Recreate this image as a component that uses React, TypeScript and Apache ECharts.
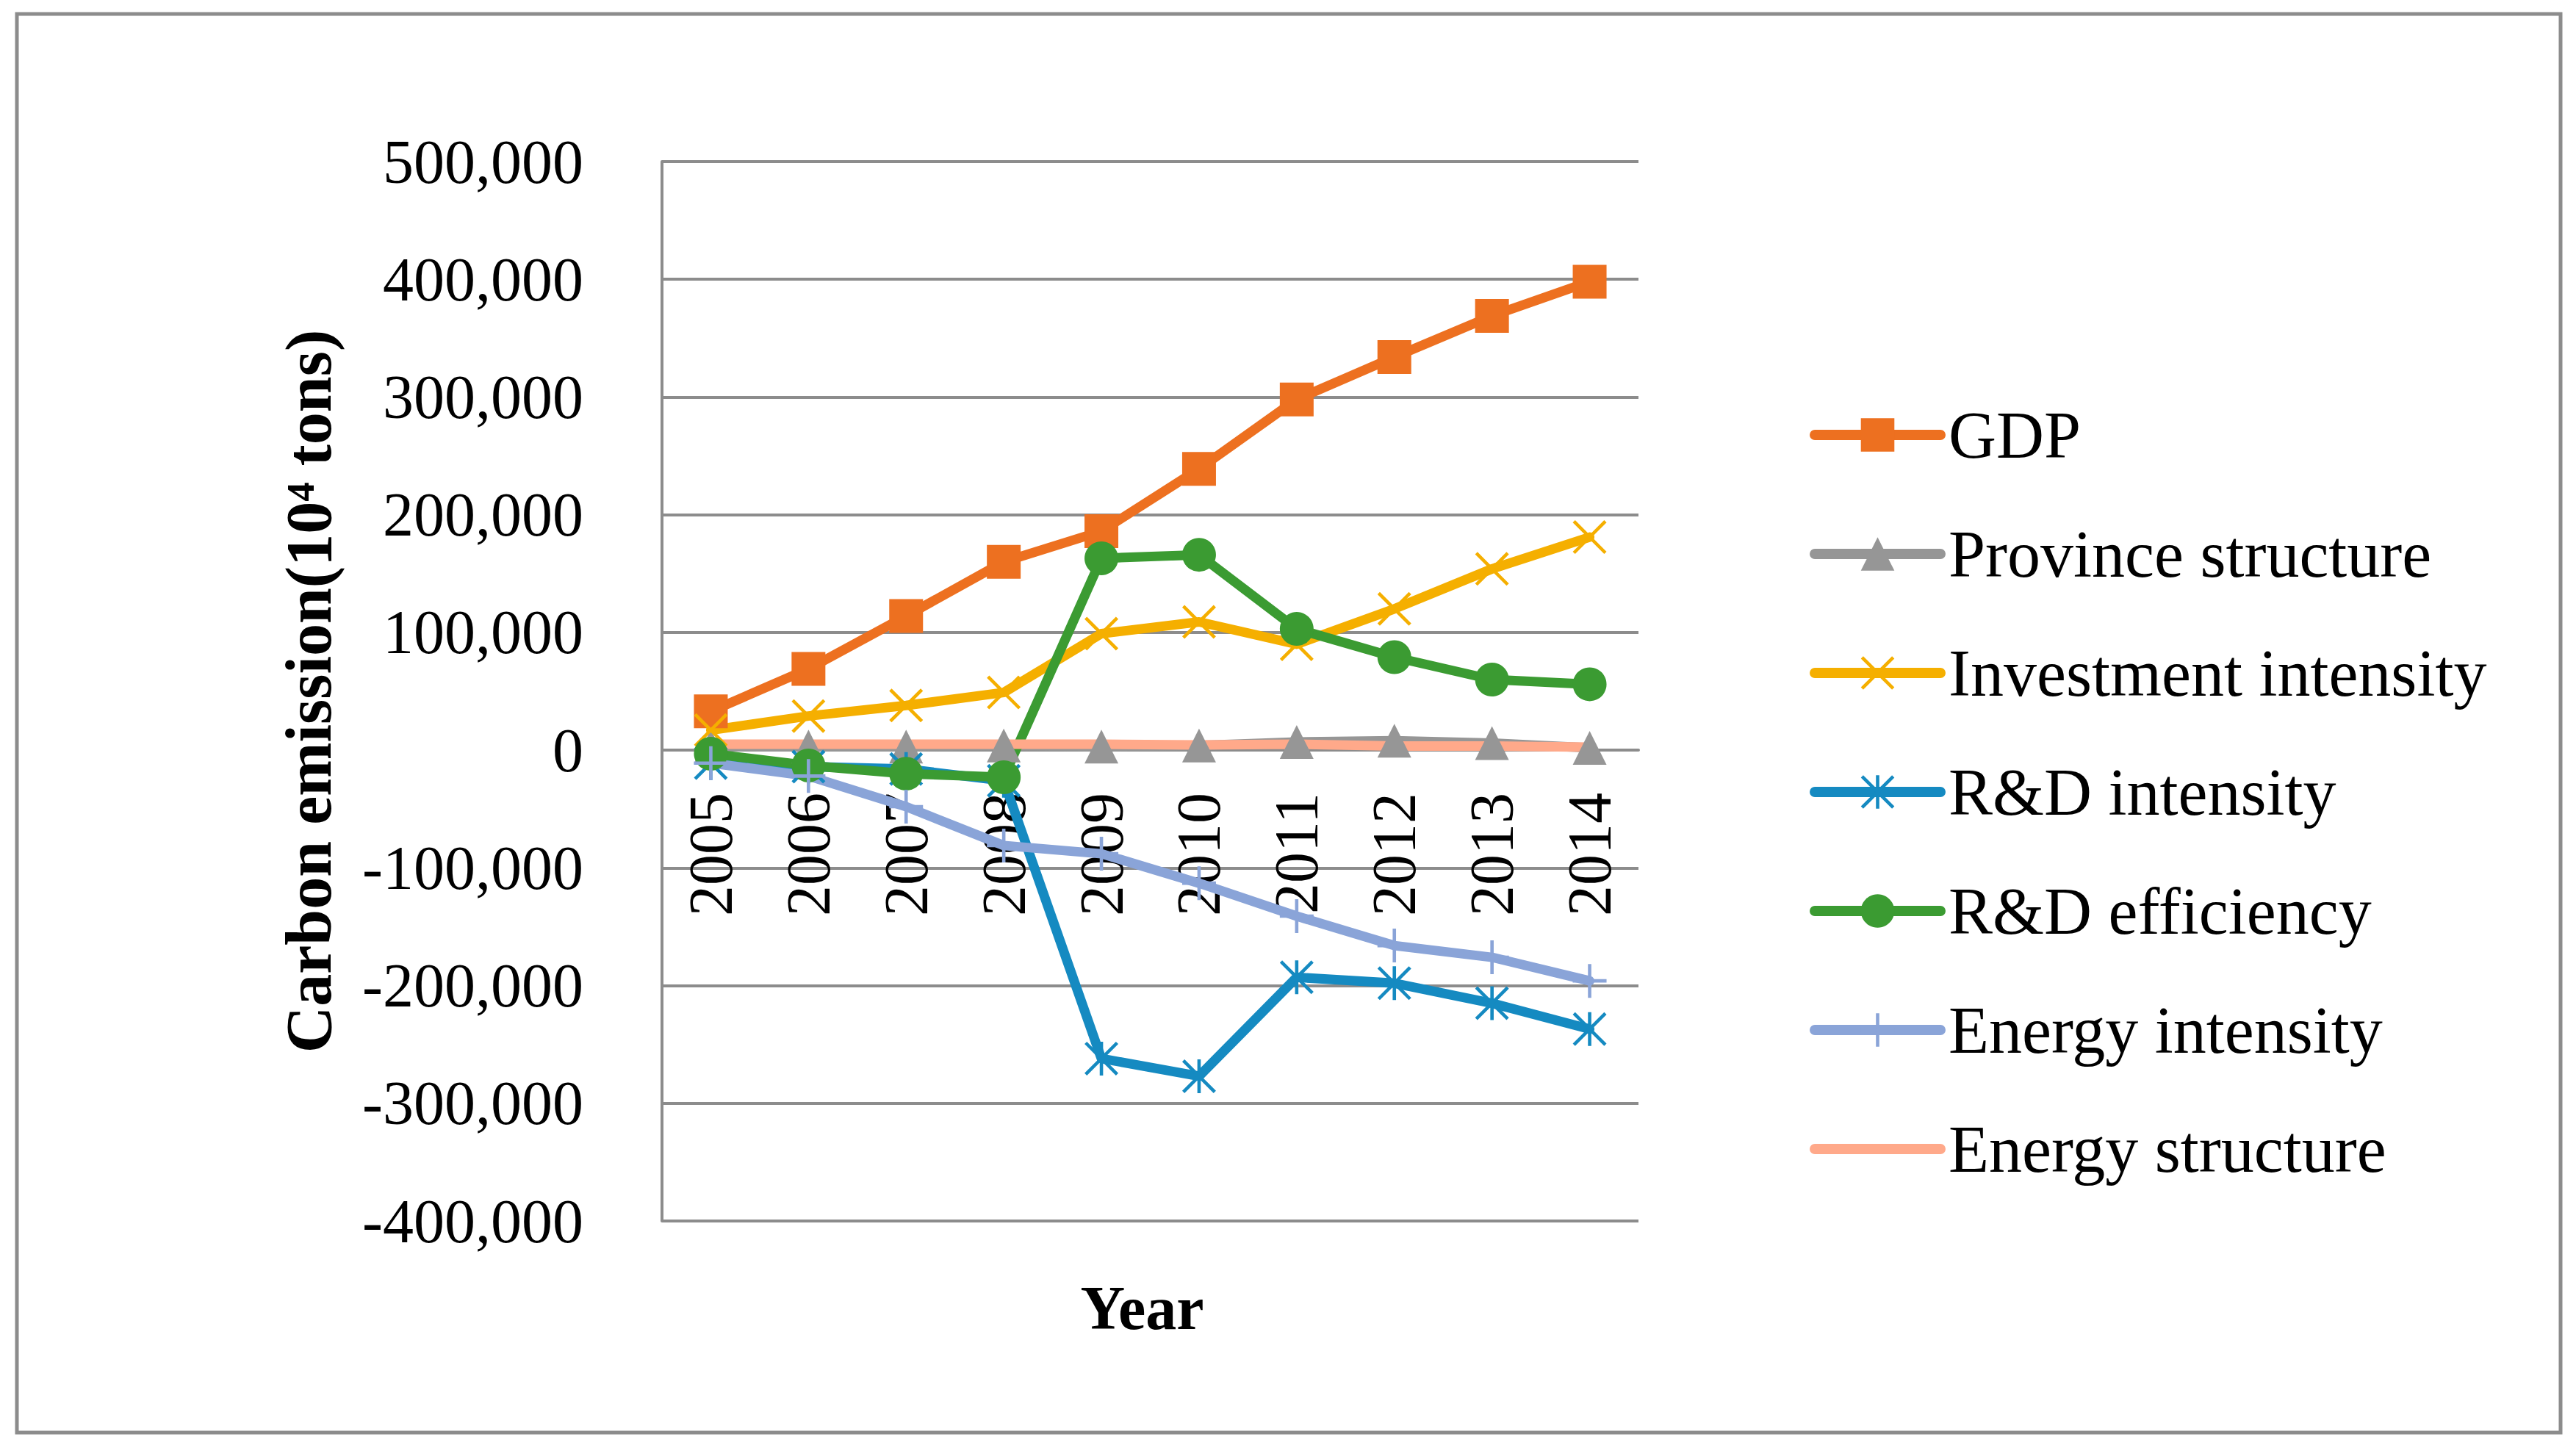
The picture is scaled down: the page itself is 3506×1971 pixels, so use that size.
import React, { useEffect, useRef } from "react";
import * as echarts from "echarts";

const years = ["2005", "2006", "2007", "2008", "2009", "2010", "2011", "2012", "2013", "2014"];
const gdp = [33000, 69000, 114000, 160000, 186000, 239000, 298000, 334000, 369000, 398000];
const provinceStructure = [3000, 3000, 3000, 4000, 3000, 4000, 7000, 8000, 6000, 2000];
const investmentIntensity = [17000, 29000, 38000, 49000, 99000, 109000, 90000, 120000, 154000, 181000];
const rdIntensity = [-11000, -14000, -16000, -26000, -262000, -277000, -193000, -198000, -215000, -237000];
const rdEfficiency = [-3000, -13000, -20000, -23000, 163000, 166000, 103000, 79000, 60000, 56000];
const energyIntensity = [-11000, -22000, -48000, -81000, -88000, -113000, -141000, -166000, -176000, -196000];
const energyStructure = [5000, 5000, 5000, 5000, 5000, 4500, 5000, 3500, 3500, 2500];

const FONT = "'Liberation Serif', 'Times New Roman', serif";
const GRID = "#8C8C8C";

const X_PATH = "path://M0,7L7,0L100,93L93,100Z M93,0L100,7L7,100L0,93Z";
const STAR_PATH = "path://M0,7L7,0L100,93L93,100Z M93,0L100,7L7,100L0,93Z M45,0L55,0L55,100L45,100Z";
const PLUS_PATH = "path://M45,0L55,0L55,100L45,100Z M0,45L100,45L100,55L0,55Z";

export default function App() {
  const ref = useRef<HTMLDivElement>(null);

  useEffect(() => {
    if (!ref.current) return;
    const chart = echarts.init(ref.current, undefined, { renderer: "svg" });

    const mk = (name: string, data: number[], color: string, symbol: string) => ({
      name,
      type: "line",
      data,
      symbol,
      symbolSize: 46,
      showSymbol: symbol !== "none",
      lineStyle: { color, width: 13, cap: "round", join: "round" },
      itemStyle: { color, borderWidth: 0 },
      emphasis: { disabled: true },
    });

    const option = {
      animation: false,
      backgroundColor: "#ffffff",
      grid: {
        left: 901,
        top: 220,
        width: 1329,
        height: 1442,
        containLabel: false,
        outerBoundsMode: "none",
      },
      xAxis: {
        type: "category",
        data: years,
        boundaryGap: true,
        offset: -641,
        name: "Year",
        nameLocation: "middle",
        nameGap: 717,
        nameTextStyle: {
          fontFamily: FONT,
          fontSize: 84,
          fontWeight: "bold",
          color: "#000",
          padding: [0, 22, 0, 0],
        },
        axisLine: { show: true, onZero: false, lineStyle: { color: GRID, width: 4 } },
        axisTick: { show: false },
        axisLabel: { rotate: 90, margin: 58, fontFamily: FONT, fontSize: 84, color: "#000" },
        splitLine: { show: false },
      },
      yAxis: {
        type: "value",
        min: -400000,
        max: 500000,
        interval: 100000,
        name: "Carbon emission(10⁴ tons)",
        nameLocation: "middle",
        nameRotate: 90,
        nameGap: 437,
        nameTextStyle: { fontFamily: FONT, fontSize: 88, fontWeight: "bold", color: "#000" },
        axisLine: { show: true, lineStyle: { color: GRID, width: 4 } },
        axisTick: { show: false },
        axisLabel: {
          margin: 107,
          fontFamily: FONT,
          fontSize: 84,
          color: "#000",
          formatter: (v: number) => v.toLocaleString("en-US"),
        },
        splitLine: { show: true, lineStyle: { color: GRID, width: 4 } },
      },
      legend: {
        orient: "vertical",
        left: 2458,
        top: 542,
        itemWidth: 171,
        itemHeight: 57,
        itemGap: 72,
        lineStyle: { width: 14, cap: "round" },
        textStyle: { fontFamily: FONT, fontSize: 90, color: "#000", lineHeight: 88, padding: [0, 0, 0, 6] },
        data: [
          "GDP",
          "Province structure",
          "Investment intensity",
          "R&D intensity",
          "R&D efficiency",
          "Energy intensity",
          { name: "Energy structure", itemStyle: { opacity: 0 } },
        ],
      },
      graphic: [
        {
          type: "rect",
          shape: { x: 23, y: 19, width: 3462, height: 1931 },
          style: { fill: "none", stroke: GRID, lineWidth: 5 },
          silent: true,
        },
      ],
      series: [
        mk("GDP", gdp, "#ED7020", "rect"),
        mk("Province structure", provinceStructure, "#969696", "triangle"),
        mk("Investment intensity", investmentIntensity, "#F5AF00", X_PATH),
        mk("R&D intensity", rdIntensity, "#158AC1", STAR_PATH),
        mk("R&D efficiency", rdEfficiency, "#3B9B32", "circle"),
        mk("Energy intensity", energyIntensity, "#8AA4D8", PLUS_PATH),
        mk("Energy structure", energyStructure, "#FFA98A", "none"),
      ],
    };

    chart.setOption(option as any);
    return () => chart.dispose();
  }, []);

  return (
    <div
      ref={ref}
      style={{ position: "fixed", left: 0, top: 0, width: 3506, height: 1971, background: "#fff" }}
    />
  );
}
